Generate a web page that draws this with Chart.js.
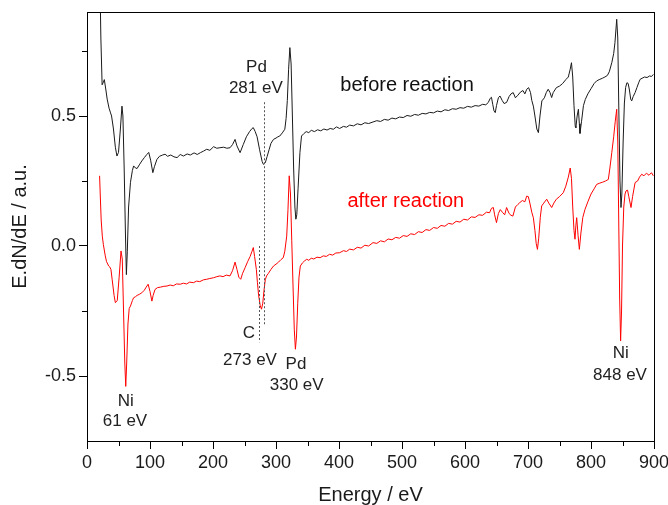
<!DOCTYPE html>
<html>
<head>
<meta charset="utf-8">
<script src="https://cdn.jsdelivr.net/npm/chart.js@4.4.0/dist/chart.umd.min.js"></script>
<style>
  html, body { margin: 0; padding: 0; background: #fff; }
  canvas { display: block; }
</style>
</head>
<body>
<canvas id="aesChart" width="668" height="505"></canvas>
<script>
'use strict';

// Espectro antes de la reacción [energía eV, E.dN/dE]
const antesReaccion = [
  [20, 1.10], [22, 0.80], [24, 0.62], [26, 0.63], [27.5, 0.64], [30, 0.60], [32, 0.565], [35, 0.53],
  [37, 0.515], [39, 0.50], [42, 0.45], [45, 0.38], [47.5, 0.346], [50, 0.36], [53, 0.45], [55.5, 0.538],
  [57, 0.50], [59, 0.30], [61, 0.05], [62.5, -0.11], [64, -0.02], [66, 0.15], [69, 0.245], [72, 0.29],
  [74, 0.308], [77, 0.300], [79.5, 0.298], [83, 0.312], [87, 0.327], [91, 0.340], [95, 0.352], [98, 0.360],
  [101, 0.33], [104.5, 0.282], [107, 0.305], [111, 0.333], [115, 0.345], [120, 0.350], [124, 0.353],
  [128, 0.345], [133, 0.350], [138, 0.343], [143, 0.340], [148, 0.352], [153, 0.346], [159, 0.354],
  [164, 0.350], [170, 0.358], [175, 0.352], [180, 0.359], [185, 0.365], [190, 0.372], [195, 0.368],
  [201, 0.382], [206, 0.376], [211, 0.378], [217, 0.380], [222, 0.376], [227, 0.378], [231, 0.390],
  [235, 0.410], [238, 0.385], [243, 0.359], [248, 0.390], [253, 0.420], [258, 0.440], [262, 0.452],
  [264, 0.455], [267, 0.440], [270, 0.42], [274, 0.37], [278, 0.325], [280, 0.314], [283, 0.320],
  [286, 0.345], [289, 0.370], [292, 0.395], [296, 0.410], [300, 0.415], [303, 0.420], [306, 0.423],
  [310, 0.435], [314, 0.449], [316, 0.49], [318, 0.56], [320, 0.68], [322, 0.763], [324, 0.70],
  [326, 0.50], [328, 0.30], [330, 0.15], [331.5, 0.103], [333, 0.12], [335, 0.22], [338, 0.36],
  [340.5, 0.423], [344, 0.432], [348, 0.440], [352, 0.436], [356, 0.445], [361, 0.440], [366, 0.447],
  [371, 0.443], [376, 0.450], [381, 0.446], [386, 0.452], [391, 0.449], [396, 0.458], [401, 0.452],
  [407, 0.460], [412, 0.457], [417, 0.465], [423, 0.462], [429, 0.470], [435, 0.466], [441, 0.474],
  [447, 0.471], [454, 0.477], [460, 0.482], [466, 0.479], [472, 0.487], [478, 0.484], [484, 0.492],
  [490, 0.489], [496, 0.496], [502, 0.494], [508, 0.502], [514, 0.499], [520, 0.506], [526, 0.503],
  [532, 0.510], [538, 0.508], [544, 0.514], [550, 0.512], [556, 0.519], [562, 0.516], [568, 0.524],
  [574, 0.521], [580, 0.528], [586, 0.526], [592, 0.532], [598, 0.530], [604, 0.537], [610, 0.534],
  [616, 0.540], [622, 0.538], [628, 0.545], [633, 0.543], [637, 0.552], [640, 0.568], [642, 0.572],
  [644, 0.545], [646, 0.520], [648, 0.513], [650, 0.540], [653, 0.570], [655.5, 0.577], [659, 0.560],
  [662, 0.548], [666, 0.552], [670, 0.575], [673, 0.585], [676.5, 0.590], [680, 0.570], [684, 0.580],
  [688, 0.592], [692, 0.598], [695, 0.585], [698, 0.603], [701, 0.609], [704, 0.590], [706, 0.560],
  [708.5, 0.538], [711, 0.500], [714, 0.450], [716.5, 0.436], [719, 0.500], [722, 0.558], [726, 0.570],
  [729, 0.590], [732, 0.603], [735, 0.590], [737.5, 0.571], [740, 0.590], [745, 0.609], [750, 0.615],
  [755, 0.625], [760, 0.640], [764, 0.650], [767, 0.680], [769, 0.705], [771, 0.650], [773, 0.540],
  [775, 0.460], [776, 0.455], [778, 0.500], [780, 0.526], [781.5, 0.470], [782.5, 0.433], [785, 0.480],
  [788, 0.540], [791, 0.564], [795, 0.585], [800, 0.605], [805, 0.625], [809, 0.635], [813, 0.640],
  [818, 0.645], [822, 0.650], [826, 0.656], [829, 0.670], [833, 0.705], [836, 0.740], [838, 0.782],
  [840.8, 0.872], [842.5, 0.80], [844, 0.55], [846, 0.25], [847.6, 0.148], [849, 0.20], [851, 0.40],
  [853, 0.55], [855, 0.61], [857, 0.628], [859, 0.625], [861, 0.60], [863, 0.565], [864.6, 0.558],
  [867, 0.575], [870, 0.590], [873, 0.610], [876, 0.630], [878, 0.641], [881, 0.645], [885, 0.650],
  [889, 0.648], [893, 0.654], [896, 0.652], [899, 0.660]
];

// Espectro después de la reacción
const despuesReaccion = [
  [20, 0.27], [21, 0.20], [22.5, 0.10], [24.3, 0.038], [26, 0.005], [29, -0.038], [31, -0.06],
  [34.4, -0.077], [36, -0.080], [38, -0.09], [40, -0.13], [43, -0.19], [45, -0.218], [48, -0.21],
  [51, -0.12], [54, -0.019], [56, -0.05], [58, -0.25], [60, -0.45], [61.5, -0.54], [63, -0.45],
  [65, -0.30], [67, -0.24], [69, -0.231], [72, -0.21], [74, -0.199], [77, -0.195], [79.5, -0.19],
  [83, -0.186], [87, -0.18], [91, -0.17], [94, -0.158], [97, -0.147], [100, -0.175], [103, -0.212],
  [105, -0.19], [108, -0.167], [112, -0.160], [117, -0.158], [122, -0.155], [127, -0.154], [132, -0.150],
  [137, -0.153], [142, -0.146], [148, -0.147], [153, -0.143], [158, -0.146], [163, -0.139], [169, -0.141],
  [174, -0.135], [179, -0.137], [185, -0.130], [190, -0.128], [195, -0.125], [201, -0.122], [206, -0.118],
  [211, -0.115], [216, -0.118], [221, -0.112], [227, -0.115], [231, -0.095], [235, -0.062], [238, -0.090],
  [241, -0.120], [244, -0.128], [247, -0.105], [251, -0.083], [255, -0.060], [259, -0.040], [262, -0.020],
  [264, -0.006], [266, -0.040], [268.8, -0.09], [270.5, -0.14], [272.5, -0.192], [275, -0.230],
  [277, -0.243], [279, -0.220], [281, -0.170], [283, -0.130], [285, -0.115], [288, -0.105], [292, -0.090],
  [296, -0.077], [300, -0.070], [304, -0.062], [308, -0.052], [311.5, -0.045], [314, -0.02], [317, 0.038],
  [319, 0.14], [321, 0.27], [323, 0.20], [325, 0.02], [327, -0.15], [329, -0.32], [330.8, -0.397],
  [332.5, -0.35], [334.5, -0.22], [336.5, -0.12], [338.6, -0.077], [342, -0.065], [345, -0.058],
  [348.7, -0.051], [352, -0.055], [356, -0.047], [360, -0.050], [365, -0.043], [370, -0.045], [375, -0.038],
  [380, -0.040], [385, -0.032], [390, -0.035], [395, -0.027], [401, -0.026], [407, -0.018], [412, -0.021],
  [417, -0.012], [423, -0.015], [429, -0.005], [435, -0.008], [441, 0.003], [447, 0.0], [454, 0.013],
  [460, 0.010], [466, 0.020], [472, 0.016], [478, 0.027], [484, 0.024], [490, 0.033], [496, 0.030],
  [502, 0.040], [508, 0.037], [514, 0.047], [520, 0.044], [526, 0.055], [532, 0.052], [538, 0.063],
  [544, 0.060], [550, 0.071], [556, 0.068], [562, 0.079], [568, 0.076], [574, 0.087], [580, 0.084],
  [586, 0.095], [592, 0.092], [598, 0.103], [604, 0.100], [610, 0.112], [616, 0.110], [622, 0.120],
  [628, 0.118], [634, 0.130], [639, 0.128], [642, 0.145], [645, 0.148], [647, 0.120], [650, 0.090],
  [653, 0.125], [656, 0.140], [660, 0.128], [663, 0.120], [666, 0.148], [670, 0.125], [673, 0.118],
  [676, 0.115], [680, 0.150], [684, 0.160], [687, 0.167], [691, 0.175], [695, 0.170], [698, 0.192],
  [700.5, 0.190], [703, 0.165], [706, 0.130], [708.5, 0.109], [711, 0.060], [713, 0.010], [715, -0.013],
  [717, 0.030], [719.5, 0.110], [721.7, 0.154], [725, 0.165], [729.7, 0.180], [733, 0.165], [737.6, 0.148],
  [741, 0.165], [745, 0.180], [750, 0.190], [756, 0.205], [760, 0.230], [764, 0.265], [767, 0.300],
  [769, 0.260], [771, 0.150], [773, 0.060], [774.6, 0.026], [776, 0.080], [777.3, 0.109], [779.5, 0.040],
  [781.5, -0.013], [784, 0.050], [787, 0.110], [790.5, 0.141], [795, 0.170], [800, 0.200], [805, 0.220],
  [809, 0.237], [814, 0.242], [818, 0.245], [823, 0.250], [827.5, 0.256], [830, 0.300], [833, 0.359],
  [836, 0.420], [838.5, 0.480], [840.8, 0.526], [842.5, 0.40], [844, 0.10], [845.5, -0.20], [847, -0.365],
  [848.5, -0.25], [850, 0.00], [852, 0.150], [854, 0.200], [855.6, 0.212], [858, 0.215], [860, 0.190],
  [863.5, 0.148], [866, 0.190], [870, 0.244], [874, 0.250], [877, 0.265], [880.5, 0.276], [884, 0.270],
  [888, 0.280], [892, 0.272], [896, 0.282], [899, 0.270]
];

const ticksMenoresX = [50, 150, 250, 350, 450, 550, 650, 750, 850];
const ticksMenoresY = [-0.25, 0.25, 0.75];

// Líneas punteadas: [energía, y inicio, y fin]
const lineasPunteadas = [
  [281, 0.553, -0.305],
  [273, 0.0, -0.37]
];

// Etiquetas de picos: texto, x, y (coordenadas de datos), color, tamaño
const etiquetas = [
  { texto: 'Pd', x: 269, y: 0.687, color: '#222', size: 17 },
  { texto: '281 eV', x: 268, y: 0.607, color: '#222', size: 17 },
  { texto: 'before reaction', x: 508, y: 0.618, color: '#111', size: 20 },
  { texto: 'after reaction', x: 506, y: 0.172, color: '#ff0000', size: 20 },
  { texto: 'C', x: 257, y: -0.336, color: '#222', size: 17 },
  { texto: '273 eV', x: 258.7, y: -0.44, color: '#222', size: 17 },
  { texto: 'Pd', x: 331.7, y: -0.455, color: '#222', size: 17 },
  { texto: '330 eV', x: 332.8, y: -0.534, color: '#222', size: 17 },
  { texto: 'Ni', x: 61.6, y: -0.599, color: '#222', size: 17 },
  { texto: '61 eV', x: 60.3, y: -0.676, color: '#222', size: 17 },
  { texto: 'Ni', x: 847.3, y: -0.413, color: '#222', size: 17 },
  { texto: '848 eV', x: 846, y: -0.497, color: '#222', size: 17 }
];

const FUENTE = '"Liberation Sans", Arial, sans-serif';

const pluginDecoracion = {
  id: 'decoracion',
  afterDatasetsDraw(chart) {
    const { ctx, scales: { x, y } } = chart;
    ctx.save();
    // líneas punteadas
    ctx.strokeStyle = '#555';
    ctx.lineWidth = 1;
    ctx.setLineDash([2, 2]);
    lineasPunteadas.forEach(([e, y0, y1]) => {
      const px = Math.round(x.getPixelForValue(e)) + 0.5;
      ctx.beginPath();
      ctx.moveTo(px, y.getPixelForValue(y0));
      ctx.lineTo(px, y.getPixelForValue(y1));
      ctx.stroke();
    });
    ctx.setLineDash([]);
    // textos
    ctx.textAlign = 'center';
    ctx.textBaseline = 'middle';
    etiquetas.forEach(et => {
      ctx.font = et.size + 'px ' + FUENTE;
      ctx.fillStyle = et.color;
      ctx.fillText(et.texto, x.getPixelForValue(et.x), y.getPixelForValue(et.y));
    });
    ctx.restore();
  },
  afterDraw(chart) {
    const { ctx, chartArea: a, scales: { x, y } } = chart;
    ctx.save();
    ctx.strokeStyle = '#000';
    ctx.lineWidth = 1;
    // marco
    ctx.strokeRect(Math.round(a.left) + 0.5, Math.round(a.top) + 0.5,
      Math.round(a.right - a.left), Math.round(a.bottom - a.top));
    // ticks menores
    ctx.beginPath();
    ticksMenoresX.forEach(v => {
      const px = Math.round(x.getPixelForValue(v)) + 0.5;
      ctx.moveTo(px, a.bottom);
      ctx.lineTo(px, a.bottom + 5);
    });
    ticksMenoresY.forEach(v => {
      const py = Math.round(y.getPixelForValue(v)) + 0.5;
      ctx.moveTo(a.left - 5, py);
      ctx.lineTo(a.left, py);
    });
    ctx.stroke();
    ctx.restore();
  }
};

const aPuntos = arr => arr.map(([e, v]) => ({ x: e, y: v }));

new Chart(document.getElementById('aesChart').getContext('2d'), {
  type: 'line',
  data: {
    datasets: [
      {
        label: 'before reaction',
        data: aPuntos(antesReaccion),
        borderColor: '#1a1a1a',
        borderWidth: 1,
        pointRadius: 0,
        tension: 0,
        fill: false
      },
      {
        label: 'after reaction',
        data: aPuntos(despuesReaccion),
        borderColor: '#ff0000',
        borderWidth: 1,
        pointRadius: 0,
        tension: 0,
        fill: false
      }
    ]
  },
  options: {
    responsive: false,
    animation: false,
    layout: { padding: { top: 12, right: 14, left: 0, bottom: 0 } },
    plugins: { legend: { display: false }, tooltip: { enabled: false } },
    scales: {
      x: {
        type: 'linear',
        min: 0,
        max: 900,
        ticks: {
          stepSize: 100,
          includeBounds: false,
          maxRotation: 0,
          padding: 3,
          color: '#1a1a1a',
          font: { family: FUENTE, size: 18 }
        },
        grid: { drawOnChartArea: false, tickLength: 8, tickColor: '#000' },
        border: { color: '#000', width: 1 },
        title: {
          display: true,
          text: 'Energy / eV',
          color: '#1a1a1a',
          font: { family: FUENTE, size: 20, lineHeight: 1 },
          padding: { top: 0, bottom: 0 }
        },
        afterFit: s => { s.height = 64; s.paddingLeft = 0; s.paddingRight = 0; }
      },
      y: {
        min: -0.75,
        max: 0.9,
        ticks: {
          stepSize: 0.5,
          includeBounds: false,
          padding: 3,
          color: '#1a1a1a',
          font: { family: FUENTE, size: 18 },
          callback: v => v.toFixed(1)
        },
        grid: { drawOnChartArea: false, tickLength: 8, tickColor: '#000' },
        border: { color: '#000', width: 1 },
        title: {
          display: true,
          text: 'E.dN/dE / a.u.',
          color: '#1a1a1a',
          font: { family: FUENTE, size: 20, lineHeight: 1 },
          padding: { top: 10, bottom: 0 }
        },
        afterFit: s => { s.width = 87; s.paddingTop = 0; s.paddingBottom = 0; }
      }
    }
  },
  plugins: [pluginDecoracion]
});
</script>
</body>
</html>
